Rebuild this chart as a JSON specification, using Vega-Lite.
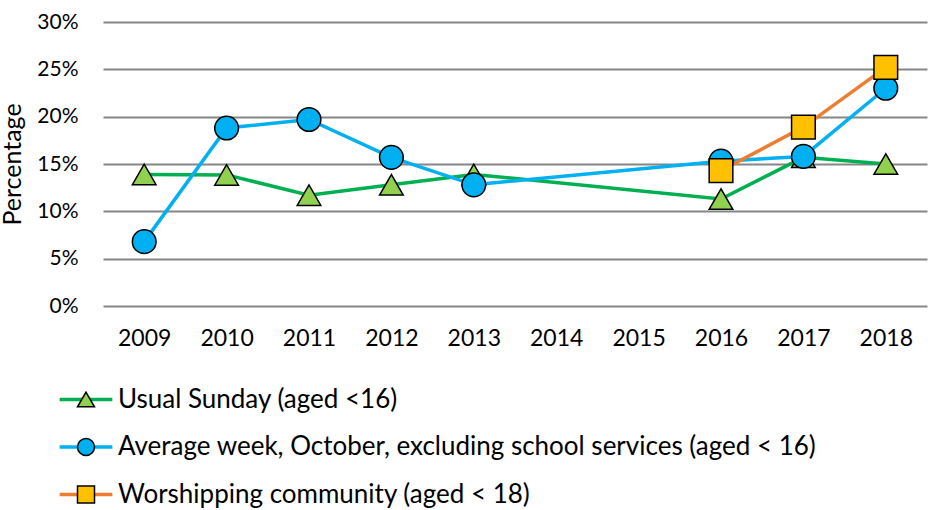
{
  "$schema": "https://vega.github.io/schema/vega-lite/v6.json",
  "width": 824,
  "height": 284,
  "autosize": {"type": "none"},
  "padding": {"left": 103, "top": 22, "right": 12, "bottom": 204},
  "background": "white",
  "config": {
    "font": "Lato",
    "view": {"stroke": null},
    "axis": {"labelFont": "Lato", "titleFont": "Lato", "labelColor": "#000000", "titleColor": "#000000"},
    "legend": {"labelFont": "Lato", "labelColor": "#000000"}
  },
  "data": {
    "values": [
      {"year": "2009", "series": "Usual Sunday (aged <16)", "value": 13.9},
      {"year": "2010", "series": "Usual Sunday (aged <16)", "value": 13.85},
      {"year": "2011", "series": "Usual Sunday (aged <16)", "value": 11.7},
      {"year": "2012", "series": "Usual Sunday (aged <16)", "value": 12.8},
      {"year": "2013", "series": "Usual Sunday (aged <16)", "value": 13.9},
      {"year": "2016", "series": "Usual Sunday (aged <16)", "value": 11.3},
      {"year": "2017", "series": "Usual Sunday (aged <16)", "value": 15.7},
      {"year": "2018", "series": "Usual Sunday (aged <16)", "value": 15.0},
      {"year": "2009", "series": "Average week, October, excluding school services (aged < 16)", "value": 6.8},
      {"year": "2010", "series": "Average week, October, excluding school services (aged < 16)", "value": 18.8},
      {"year": "2011", "series": "Average week, October, excluding school services (aged < 16)", "value": 19.7},
      {"year": "2012", "series": "Average week, October, excluding school services (aged < 16)", "value": 15.7},
      {"year": "2013", "series": "Average week, October, excluding school services (aged < 16)", "value": 12.8},
      {"year": "2016", "series": "Average week, October, excluding school services (aged < 16)", "value": 15.3},
      {"year": "2017", "series": "Average week, October, excluding school services (aged < 16)", "value": 15.8},
      {"year": "2018", "series": "Average week, October, excluding school services (aged < 16)", "value": 23.0},
      {"year": "2016", "series": "Worshipping community (aged < 18)", "value": 14.3},
      {"year": "2017", "series": "Worshipping community (aged < 18)", "value": 18.9},
      {"year": "2018", "series": "Worshipping community (aged < 18)", "value": 25.2}
    ]
  },
  "encoding": {
    "x": {
      "field": "year", "type": "ordinal",
      "scale": {"type": "point", "padding": 0.5, "domain": ["2009","2010","2011","2012","2013","2014","2015","2016","2017","2018"]},
      "axis": {"title": null, "labelAngle": 0, "domain": false, "ticks": false, "labelFontSize": 23, "labelPadding": 21}
    },
    "y": {
      "field": "value", "type": "quantitative",
      "scale": {"domain": [0, 30], "nice": false},
      "axis": {
        "title": "Percentage", "titleFontSize": 25, "titleFontWeight": "normal",
        "titleBaseline": "alphabetic", "titleX": -83, "titleY": 142, "titleAnchor": "middle", "titleAngle": -90,
        "values": [0, 5, 10, 15, 20, 25, 30],
        "labelExpr": "datum.value + '%'",
        "labelFontSize": 21, "labelPadding": 25,
        "domain": false, "ticks": false,
        "grid": true, "gridColor": "#868686", "gridWidth": 2
      }
    }
  },
  "layer": [
    {
      "mark": {"type": "line", "strokeWidth": 3.5},
      "encoding": {
        "stroke": {
          "field": "series", "type": "nominal",
          "scale": {
            "domain": ["Usual Sunday (aged <16)", "Average week, October, excluding school services (aged < 16)", "Worshipping community (aged < 18)"],
            "range": ["#00B050", "#00B0F0", "#ED7D31"]
          },
          "legend": {
            "orient": "none", "legendX": -30, "legendY": 364.5, "title": null, "padding": 0,
            "direction": "vertical", "labelLimit": 0,
            "symbolType": "M-3.1,0H3.1", "symbolSize": 289, "symbolStrokeWidth": 3.5,
            "labelFontSize": 26, "labelOpacity": 0, "labelOffset": 19, "rowPadding": 21.5
          }
        }
      }
    },
    {
      "mark": {"type": "point", "filled": true, "stroke": "#000000", "strokeWidth": 1.5, "opacity": 1, "size": 560},
      "encoding": {
        "fill": {
          "field": "series", "type": "nominal",
          "scale": {
            "domain": ["Usual Sunday (aged <16)", "Average week, October, excluding school services (aged < 16)", "Worshipping community (aged < 18)"],
            "range": ["#92D050", "#00B0F0", "#FFC000"]
          },
          "legend": {
            "orient": "none", "legendX": -30, "legendY": 364.5, "title": null, "padding": 0,
            "direction": "vertical", "labelLimit": 0,
            "symbolSize": 289, "symbolStrokeWidth": 1.5,
            "labelFontSize": 26, "labelOffset": 19, "rowPadding": 21.5,
            "symbolOpacity": 1,
            "encode": {"symbols": {"update": {"stroke": {"value": "#000000"}, "strokeWidth": {"value": 1.5}}}}
          }
        },
        "shape": {
          "field": "series", "type": "nominal",
          "scale": {
            "domain": ["Usual Sunday (aged <16)", "Average week, October, excluding school services (aged < 16)", "Worshipping community (aged < 18)"],
            "range": ["triangle-up", "circle", "square"]
          },
          "legend": {
            "orient": "none", "legendX": -30, "legendY": 364.5, "title": null, "padding": 0,
            "direction": "vertical", "labelLimit": 0,
            "symbolSize": 289, "symbolStrokeWidth": 1.5,
            "labelFontSize": 26, "labelOffset": 19, "rowPadding": 21.5,
            "symbolOpacity": 1,
            "encode": {"symbols": {"update": {"stroke": {"value": "#000000"}, "strokeWidth": {"value": 1.5}}}}
          }
        }
      }
    }
  ],
  "resolve": {
    "scale": {"stroke": "independent", "fill": "independent", "shape": "independent"},
    "legend": {"stroke": "independent", "fill": "independent", "shape": "independent"}
  }
}
